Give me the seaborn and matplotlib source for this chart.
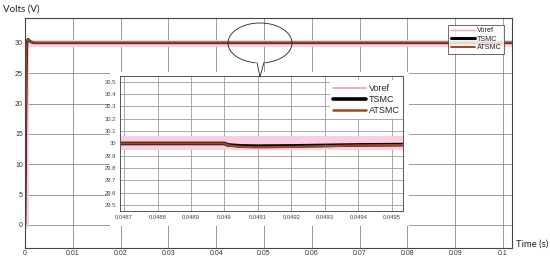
import numpy as np
import pandas as pd
import matplotlib
matplotlib.use("Agg")
import matplotlib.pyplot as plt
import seaborn as sns
from matplotlib.patches import Rectangle, Arc
from matplotlib.lines import Line2D

# ── Data ──────────────────────────────────────────────────────────────────────
t_ref = [0.0, 0.0, 0.102]
v_ref = [0.0, 30.0, 30.0]

t_start = [0.0, 0.0001, 0.0002, 0.0003, 0.0004, 0.0005, 0.0006, 0.0008,
           0.001, 0.0013, 0.0016, 0.002, 0.003, 0.102]
v_tsmc = [0.0, 8.0, 18.0, 26.0, 29.5, 30.4, 30.6, 30.5,
          30.3, 30.15, 30.05, 30.0, 30.0, 30.0]
v_atsmc = [0.0, 8.0, 18.0, 26.0, 29.5, 30.4, 30.6, 30.5,
           30.3, 30.15, 30.05, 30.0, 30.0, 30.0]

t_zoom = [0.04865, 0.0490, 0.04901, 0.04905, 0.0491, 0.0492, 0.0493, 0.0494, 0.04955]
z_ref = [30.0, 30.0, 30.0, 30.0, 30.0, 30.0, 30.0, 30.0, 30.0]
z_tsmc = [30.0, 30.0, 29.988, 29.98, 29.978, 29.98, 29.984, 29.988, 29.991]
z_atsmc = [30.0, 30.0, 29.985, 29.972, 29.968, 29.972, 29.978, 29.984, 29.988]

x_ticks = [0, 0.01, 0.02, 0.03, 0.04, 0.05, 0.06, 0.07, 0.08, 0.09, 0.1]
x_labels = ["0", "0.01", "0.02", "0.03", "0.04", "0.05", "0.06", "0.07", "0.08", "0.09", "0.1"]
y_ticks = [0, 5, 10, 15, 20, 25, 30]

zx_ticks = [0.0487, 0.0488, 0.0489, 0.049, 0.0491, 0.0492, 0.0493, 0.0494, 0.0495]
zx_labels = ["0.0487", "0.0488", "0.0489", "0.049", "0.0491", "0.0492", "0.0493", "0.0494", "0.0495"]
zy_ticks = [29.5, 29.6, 29.7, 29.8, 29.9, 30.0, 30.1, 30.2, 30.3, 30.4, 30.5]
zy_labels = ["29.5", "29.6", "29.7", "29.8", "29.9", "30", "30.1", "30.2", "30.3", "30.4", "30.5"]

names = ["Voref", "TSMC", "ATSMC"]
C_REF = "#fbcde2"
C_REF_LEG = "#eea5c6"
C_TSMC = "#000000"
C_ATSMC = "#9a4a1f"

# ── Style ─────────────────────────────────────────────────────────────────────
sns.set_style("white")
plt.rcParams["font.family"] = ["Liberation Sans", "DejaVu Sans"]

fig = plt.figure(figsize=(5.5, 2.59), dpi=100)
W, H = 550.0, 259.0

def fx(px):
    return px / W

def fy(py):
    return 1 - py / H

ax = fig.add_axes([fx(25), fy(248), fx(512) - fx(25), fy(18) - fy(248)])

def draw(a, t, v, color, lw):
    df = pd.DataFrame({"t": t, "v": v})
    sns.lineplot(data=df, x="t", y="v", ax=a, color=color, linewidth=lw,
                 estimator=None, sort=False, legend=False)

draw(ax, t_ref, v_ref, C_REF, 5)
draw(ax, t_start, v_tsmc, C_TSMC, 1.8)
draw(ax, t_start, v_atsmc, C_ATSMC, 1.2)

ax.set_xlim(0, 0.1019)
ax.set_ylim(-3.8, 34.1)
ax.set_xticks(x_ticks)
ax.set_xticklabels(x_labels)
ax.set_yticks(y_ticks)
ax.set_xlabel("")
ax.set_ylabel("")
ax.grid(True, color="#8a8a8a", linewidth=0.6)
ax.tick_params(labelsize=5, colors="#333333", length=2, width=0.5, pad=1.5, direction="in")
ax.tick_params(axis="y", colors="#aa3333", labelcolor="#333333")
for s in ax.spines.values():
    s.set_color("#444444")
    s.set_linewidth(0.8)

handles = [Line2D([], [], color=C_REF_LEG, lw=1.0),
           Line2D([], [], color=C_TSMC, lw=2.2),
           Line2D([], [], color=C_ATSMC, lw=1.4)]
leg = ax.legend(handles, names, loc="upper right", bbox_to_anchor=(0.984, 0.97),
                borderaxespad=0, fontsize=5.2, frameon=True, fancybox=False,
                handlelength=3.4, handletextpad=0.2, borderpad=0.35, labelspacing=0.2)
leg.get_frame().set_edgecolor("#444444")
leg.get_frame().set_linewidth(0.7)

fig.text(fx(3), fy(9), "Volts (V)", fontsize=7, family=["Lato", "DejaVu Sans"],
         color="#222222", va="center")
fig.text(fx(516), fy(244), "Time (s)", fontsize=6.8, family=["Lato", "DejaVu Sans"],
         color="#222222", va="center")

# white backing under the zoomed view
fig.add_artist(Rectangle((fx(110), fy(226)), fx(409) - fx(110), fy(72) - fy(226),
                         facecolor="white", edgecolor="none", zorder=0.5))

# ── Inset ─────────────────────────────────────────────────────────────────────
ins = fig.add_axes([fx(120), fy(211), fx(403) - fx(120), fy(76) - fy(211)], zorder=1)
draw(ins, t_zoom, z_ref, C_REF, 10)
draw(ins, t_zoom, z_tsmc, C_TSMC, 2.6)
draw(ins, t_zoom, z_atsmc, C_ATSMC, 1.6)
ins.set_xlim(0.048688, 0.049533)
ins.set_ylim(29.453, 30.546)
ins.set_xticks(zx_ticks)
ins.set_xticklabels(zx_labels)
ins.set_yticks(zy_ticks)
ins.set_yticklabels(zy_labels)
ins.set_xlabel("")
ins.set_ylabel("")
ins.grid(True, color="#9a9a9a", linewidth=0.6)
ins.tick_params(labelsize=4.2, colors="#444444", length=1.5, width=0.5, pad=1.5)
for s in ins.spines.values():
    s.set_color("#555555")
    s.set_linewidth(0.7)

handles2 = [Line2D([], [], color=C_REF_LEG, lw=1.3),
            Line2D([], [], color=C_TSMC, lw=2.6),
            Line2D([], [], color=C_ATSMC, lw=1.8)]
leg2 = ins.legend(handles2, names, loc="upper right", bbox_to_anchor=(1.0, 0.97),
                  borderaxespad=0, fontsize=6.5, frameon=True, fancybox=False,
                  handlelength=3.6, handletextpad=0.3, borderpad=0.4, labelspacing=0.25)
leg2.get_frame().set_edgecolor("none")
leg2.get_frame().set_facecolor("white")
leg2.get_frame().set_alpha(1)

# ── Speech bubble ─────────────────────────────────────────────────────────────
fig.add_artist(Arc((fx(260), fy(43)), fx(64), fy(23) - fy(63), theta1=277, theta2=264 + 360,
                   color="#222222", linewidth=0.6, transform=fig.transFigure))
fig.add_artist(Line2D([fx(257), fx(260), fx(264)], [fy(62.5), fy(77), fy(62.5)],
                      color="#222222", linewidth=0.6, transform=fig.transFigure))

fig.savefig("out.png", dpi=100)
